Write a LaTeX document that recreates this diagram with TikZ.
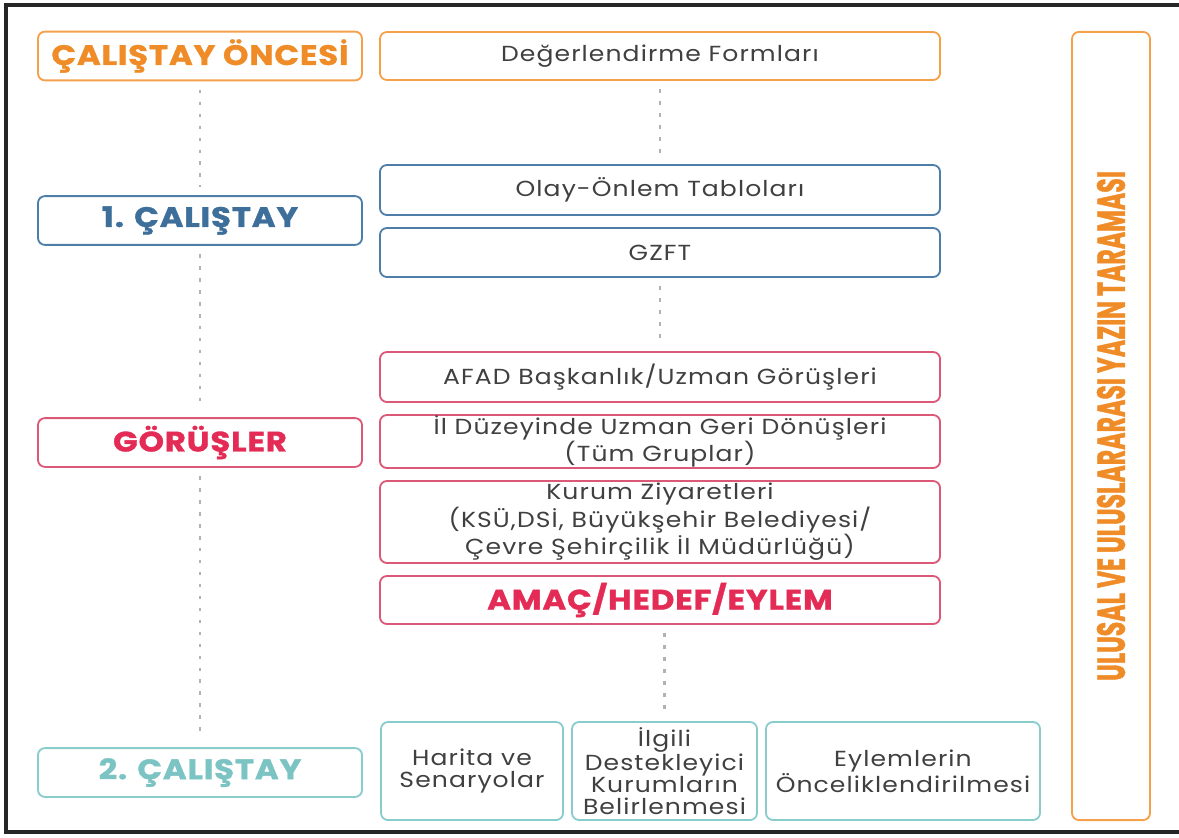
\documentclass[tikz,border=0pt]{standalone}
\usepackage{fontspec}
\setmainfont{Poppins}[FakeStretch=1.15,LetterSpace=5]
\newfontfamily\headfont[FakeStretch=1.15,LetterSpace=3,FakeBold=1.2]{Poppins}
\newfontfamily\tallfont[FakeStretch=0.6,FakeBold=1]{Poppins}
\definecolor{orng}{HTML}{F5A04A}
\definecolor{orngtxt}{HTML}{F08C28}
\definecolor{blu}{HTML}{4D7EA8}
\definecolor{blutxt}{HTML}{3E6F9B}
\definecolor{crim}{HTML}{DB5877}
\definecolor{crimtxt}{HTML}{E32B55}
\definecolor{teal}{HTML}{88CCCC}
\definecolor{tealtxt}{HTML}{7CC3C3}
\definecolor{txt}{HTML}{404040}

\begin{document}
\begin{tikzpicture}[x=0.025cm,y=-0.025cm,
  box/.style={draw,line width=1.3pt,rounded corners=5pt,align=center,inner sep=0pt,
    text=txt,font=\fontsize{15.5}{18}\selectfont},
  head/.style={box,minimum width=8.1cm,minimum height=1.22cm,font=\headfont\fontsize{20}{22}\selectfont\bfseries},
  wide/.style={box,minimum width=14cm},
  dots/.style={draw=gray!60,line width=2pt,dash pattern=on 2.5pt off 6pt,shorten <=6pt,shorten >=6pt}]
  \useasboundingbox (0,0) rectangle (1179,837);
  \draw[line width=2.2pt,draw=black!85] (6,5) rectangle (1195,832);

  % left column
  \node[head,draw=orng,text=orngtxt] (oncesi) at (200,56) {ÇALIŞTAY ÖNCESİ};
  \node[head,draw=blu,text=blutxt] (cal1) at (200,220.5) {1. ÇALIŞTAY};
  \node[head,draw=crim,text=crimtxt] (gorus) at (200,442.5) {GÖRÜŞLER};
  \node[head,draw=teal,text=tealtxt] (cal2) at (200,772.5) {2. ÇALIŞTAY};

  % middle column
  \node[wide,draw=orng,minimum height=1.2cm] (formlar) at (660,56) {Değerlendirme Formları};
  \node[wide,draw=blu,minimum height=1.25cm] (olay) at (660,190) {Olay-Önlem Tabloları};
  \node[wide,draw=blu,minimum height=1.225cm] (gzft) at (660,252.5) {GZFT};
  \node[wide,draw=crim,minimum height=1.25cm] (afad) at (660,377) {AFAD Başkanlık/Uzman Görüşleri};
  \node[wide,draw=crim,minimum height=1.325cm] (ilduzey) at (660,441.5) {İl Düzeyinde Uzman Geri Dönüşleri\\(Tüm Gruplar)};
  \node[wide,draw=crim,minimum height=2.05cm] (kurum) at (660,522) {Kurum Ziyaretleri\\(KSÜ,DSİ, Büyükşehir Belediyesi/\\Çevre Şehirçilik İl Müdürlüğü)};
  \node[wide,draw=crim,minimum height=1.2cm,text=crimtxt,font=\headfont\fontsize{20}{22}\selectfont\bfseries] (amac) at (660,600) {AMAÇ/HEDEF/EYLEM};

  % bottom row
  \tikzset{low/.style={box,draw=teal,minimum height=2.45cm,font=\fontsize{15.5}{15.8}\selectfont}}
  \node[low,minimum width=4.55cm] (harita) at (472,771) {Harita ve\\Senaryolar};
  \node[low,minimum width=4.625cm] (ilgili) at (664.5,771) {İlgili\\Destekleyici\\Kurumların\\Belirlenmesi};
  \node[low,minimum width=6.85cm] (eylem) at (903,771) {Eylemlerin\\Önceliklendirilmesi};

  % right column
  \node[box,draw=orng,rotate=90,minimum width=19.7cm,minimum height=1.95cm,text=orngtxt,
    font=\tallfont\fontsize{28}{30}\selectfont\bfseries] (yazin) at (1111,426) {ULUSAL VE ULUSLARARASI YAZIN TARAMASI};

  % dotted links
  \foreach \a/\b in {oncesi/cal1,cal1/gorus,gorus/cal2,formlar/olay,gzft/afad}
    \draw[dots] (\a.south) -- (\b.north);
  \draw[dots] (amac.south -| ilgili.north) -- (ilgili.north);
\end{tikzpicture}
\end{document}
